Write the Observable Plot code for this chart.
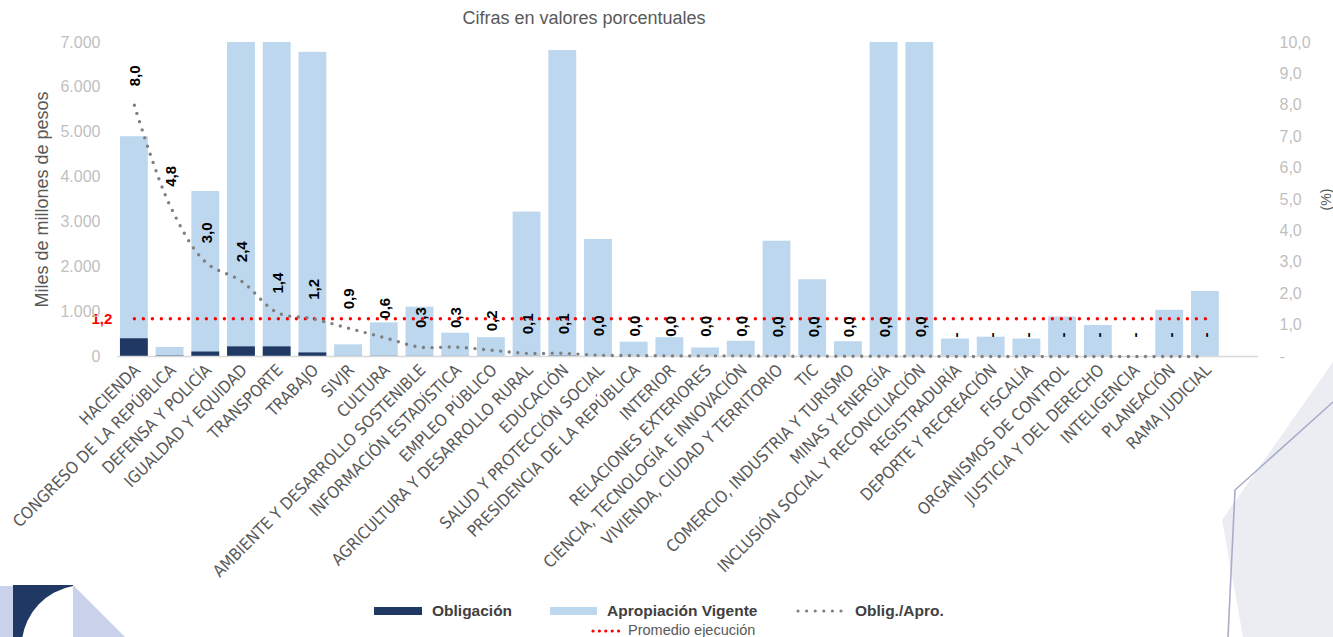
<!DOCTYPE html>
<html>
<head>
<meta charset="utf-8">
<script src="https://cdn.jsdelivr.net/npm/d3@7"></script>
<script src="https://cdn.jsdelivr.net/npm/@observablehq/plot@0.6"></script>
<style>
  html, body { margin: 0; padding: 0; background: #ffffff; }
  #page { position: relative; width: 1333px; height: 637px; overflow: hidden; font-family: "Liberation Sans", Arial, sans-serif; }
  #decor { position: absolute; left: 0; top: 0; z-index: 0; }
  #title { position: absolute; left: 0; width: 1168px; top: 8px; text-align: center; font-size: 18px; color: #595959; z-index: 2; }
  #chart { position: absolute; left: 0; top: 32px; z-index: 1; }
  #chart svg { background: transparent; overflow: visible; }
  .lg { position: absolute; z-index: 2; white-space: nowrap; }
  .lgt { font-weight: bold; font-size: 15.5px; color: #404040; line-height: 18px; }
</style>
</head>
<body>
<div id="page">
  <svg id="decor" width="1333" height="637">
    <rect x="0" y="586" width="13" height="60" fill="#c9d2ea"></rect>
    <path d="M13,585 L73,585 L73,586 A62,62 0 0 0 22,640 L13,640 Z" fill="#1f3864"></path>
    <path d="M73,585 L128,640 L73,640 Z" fill="#c9d2ea"></path>
    <path d="M1333,362 L1222,520 L1243,637 L1333,637 Z" fill="#ecedf3"></path>
    <path d="M1333,402 L1235,490 L1228,637" fill="none" stroke="#a9adc9" stroke-width="1.6"></path>
  </svg>
  <div id="title">Cifras en valores porcentuales</div>
  <div id="chart"></div>

  <div class="lg" style="left:374px; top:607px; width:48px; height:8px; background:#203864;"></div>
  <div class="lg lgt" style="left:432px; top:602px;">Obligación</div>
  <div class="lg" style="left:550px; top:607px; width:47px; height:8px; background:#bdd7ee;"></div>
  <div class="lg lgt" style="left:607px; top:602px;">Apropiación Vigente</div>
  <svg class="lg" style="left:795px; top:605px;" width="54" height="12">
    <line x1="3" y1="6" x2="51" y2="6" stroke="#7f7f7f" stroke-width="3.2" stroke-linecap="round" stroke-dasharray="0 8.6"></line>
  </svg>
  <div class="lg lgt" style="left:855px; top:602px;">Oblig./Apro.</div>
  <svg class="lg" style="left:590px; top:625px;" width="38" height="12">
    <line x1="3" y1="6" x2="35" y2="6" stroke="#ff0000" stroke-width="3.2" stroke-linecap="round" stroke-dasharray="0 6.4"></line>
  </svg>
  <div class="lg" style="left:628px; top:622px; font-size:14.5px; color:#595959; line-height:17px;">Promedio ejecución</div>
</div>

<script>
// ---- Data ----
const categories = [
  "HACIENDA", "CONGRESO DE LA REPÚBLICA", "DEFENSA Y POLICÍA", "IGUALDAD Y EQUIDAD",
  "TRANSPORTE", "TRABAJO", "SIVJR", "CULTURA", "AMBIENTE Y DESARROLLO SOSTENIBLE",
  "INFORMACIÓN ESTADÍSTICA", "EMPLEO PÚBLICO", "AGRICULTURA Y DESARROLLO RURAL",
  "EDUCACIÓN", "SALUD Y PROTECCIÓN SOCIAL", "PRESIDENCIA DE LA REPÚBLICA", "INTERIOR",
  "RELACIONES EXTERIORES", "CIENCIA, TECNOLOGÍA E INNOVACIÓN", "VIVIENDA, CIUDAD Y TERRITORIO",
  "TIC", "COMERCIO, INDUSTRIA Y TURISMO", "MINAS Y ENERGÍA", "INCLUSIÓN SOCIAL Y RECONCILIACIÓN",
  "REGISTRADURÍA", "DEPORTE Y RECREACIÓN", "FISCALÍA", "ORGANISMOS DE CONTROL",
  "JUSTICIA Y DEL DERECHO", "INTELIGENCIA", "PLANEACIÓN", "RAMA JUDICIAL"
];
// Apropiación vigente (miles de millones de pesos); bars beyond 7.000 are clipped at the axis top
const apropiacion = [
  4900, 200, 3680, 7000, 7000, 6780, 260, 750, 1100, 520, 420, 3220, 6820, 2610,
  320, 420, 190, 340, 2570, 1710, 330, 7000, 7000, 390, 430, 390, 880, 690, 0, 1030, 1450
];
// Obligación (miles de millones de pesos)
const obligacion = [
  395, 10, 100, 215, 215, 80, 2, 4, 3, 2, 1, 3, 7, 1,
  0, 0, 0, 0, 0, 0, 0, 0, 0, 0, 0, 0, 0, 0, 0, 0, 0
];
// Oblig./Apro. (%)
const ratio = [
  8.0, 4.8, 3.0, 2.4, 1.4, 1.2, 0.9, 0.6, 0.3, 0.3, 0.2, 0.1, 0.1,
  0.04, 0.03, 0.02, 0.02, 0.02, 0.01, 0.01, 0.01, 0.01, 0.01,
  0, 0, 0, 0, 0, 0, 0, 0
];
const promedio = 1.2;                       // Promedio ejecución (%)
const leftTicks = [0, 1000, 2000, 3000, 4000, 5000, 6000, 7000];
const rightTicks = [0, 1, 2, 3, 4, 5, 6, 7, 8, 9, 10];
const yMax = 7000, pctMax = 10;
const k = yMax / pctMax;                     // maps % onto the left-axis scale

const rows = categories.map((c, i) => ({cat: c, apro: apropiacion[i], obl: obligacion[i], pct: ratio[i]}));
const fmtPct = v => v === 0 ? "-" : v.toFixed(1).replace(".", ",");
const fmtThousands = v => d3.format(",")(v).replace(/,/g, ".");

const labelFont = "'Liberation Sans Narrow', 'DejaVu Sans Condensed', 'Liberation Sans', Arial, sans-serif";

const chart = Plot.plot({
  width: 1333,
  height: 568,
  marginTop: 10,
  marginBottom: 244,
  marginLeft: 117,
  marginRight: 75,
  style: {fontFamily: "'Liberation Sans', Arial, sans-serif", background: "transparent", overflow: "visible"},
  x: {domain: categories, paddingInner: 0.22, paddingOuter: 0.59, align: 0.07, round: false, label: null},
  y: {domain: [0, yMax], label: null},
  marks: [
    Plot.barY(rows, {x: "cat", y: "apro", fill: "#bdd7ee", clip: true}),
    Plot.barY(rows, {x: "cat", y: "obl", fill: "#203864"}),
    Plot.ruleY([0], {stroke: "#d9d9d9", strokeWidth: 1.5}),
    Plot.lineY(categories, {x: d => d, y: () => promedio * k, stroke: "#ff0000", strokeWidth: 3.4,
      strokeDasharray: "0 9", strokeLinecap: "round"}),
    Plot.lineY(rows, {x: "cat", y: d => d.pct * k, curve: "catmull-rom", stroke: "#7f7f7f",
      strokeWidth: 3.4, strokeDasharray: "0 8.6", strokeLinecap: "round"}),
    Plot.text(rows, {x: "cat", y: d => d.pct * k, text: d => fmtPct(d.pct), rotate: -90,
      textAnchor: "start", lineAnchor: "middle", dy: -19, dx: 1,
      fontSize: 15, fontWeight: "bold", fill: "#000000"}),
    Plot.text([promedio], {x: () => categories[0], y: d => d * k, text: d => fmtPct(d),
      textAnchor: "end", dx: -22, fontSize: 15, fontWeight: "bold", fill: "#ff0000"}),
    Plot.axisY({anchor: "left", ticks: leftTicks, tickFormat: fmtThousands, tickSize: 0, tickPadding: 17,
      fontSize: 16, fill: "#bfbfbf", label: null}),
    Plot.axisY({anchor: "left", ticks: [], label: "Miles de millones de pesos", labelAnchor: "center",
      labelArrow: "none", labelOffset: 82, fontSize: 18, fill: "#595959"}),
    Plot.axisY({anchor: "right", ticks: rightTicks.map(v => v * k), tickFormat: d => fmtPct(d / k),
      tickSize: 0, tickPadding: 21, fontSize: 16, fill: "#bfbfbf", label: null}),
    Plot.axisY({anchor: "right", ticks: [], label: "(%)", labelAnchor: "center", labelArrow: "none",
      labelOffset: 72, fontSize: 14, fill: "#595959"}),
    Plot.axisX({anchor: "bottom", tickRotate: -45, tickSize: 0, tickPadding: 11, dx: 3, fontSize: 16.5,
      fill: "#595959", fontFamily: labelFont, label: null})
  ]
});
document.getElementById("chart").appendChild(chart);
</script>
</body>
</html>
